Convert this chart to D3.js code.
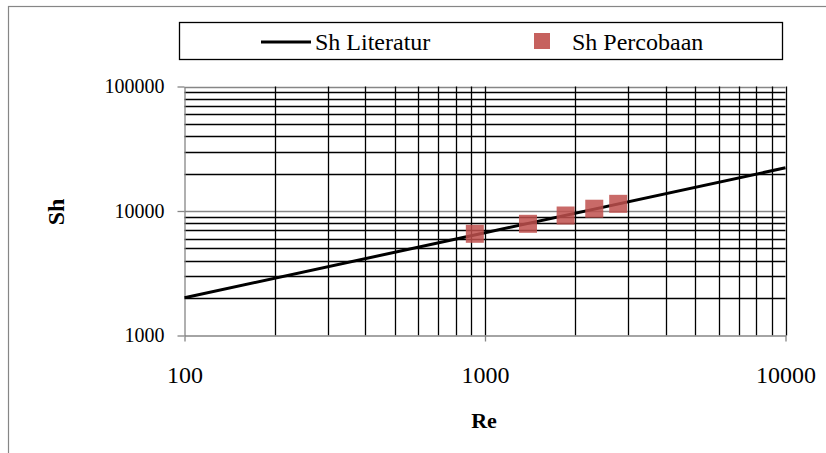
<!DOCTYPE html>
<html>
<head>
<meta charset="utf-8">
<script src="https://cdn.jsdelivr.net/npm/d3@7"></script>
<style>
  html, body { margin: 0; padding: 0; background: #ffffff; }
  svg { display: block; }
  text { font-family: "Liberation Serif", "Times New Roman", serif; fill: #000; }
</style>
</head>
<body>
<svg id="chart" width="826" height="453"></svg>
<script>
// Axis ticks
const reTicks = [100, 1000, 10000];
const shTicks = [1000, 10000, 100000];

// Sh from the literature correlation (power law, straight in log-log)
const reLit = [100, 1000, 10000];
const shLit = [2010, 6690, 22230];

// Sh from the experiments
const reExp = [925, 1390, 1855, 2310, 2775];
const shExp = [6560, 7890, 9200, 10430, 11420];

const svg = d3.select("#chart");

const x = d3.scaleLog().domain([100, 10000]).range([184.5, 785.5]);
const y = d3.scaleLog().domain([1000, 100000]).range([335.5, 86.5]);

const axisGray = "#868686";
const serif = '"Liberation Serif", "Times New Roman", serif';

// outer chart frame
svg.append("rect")
  .attr("x", 8.5).attr("y", 6.5)
  .attr("width", 830).attr("height", 460)
  .attr("fill", "none").attr("stroke", axisGray).attr("stroke-width", 1.2);

const plot = svg.append("g");

// horizontal gridlines: decades in gray, intermediate values in black
const yGrid = y.ticks().filter(v => v > 1000);
plot.selectAll("line.hgrid").data(yGrid).join("line")
  .attr("class", "hgrid")
  .attr("x1", x.range()[0]).attr("x2", x.range()[1])
  .attr("y1", d => Math.round(y(d)) + 0.5).attr("y2", d => Math.round(y(d)) + 0.5)
  .attr("stroke", d => shTicks.includes(d) ? axisGray : "#000")
  .attr("stroke-width", 1.3);

// vertical gridlines, all black
const xGrid = x.ticks().filter(v => v > 100);
plot.selectAll("line.vgrid").data(xGrid).join("line")
  .attr("class", "vgrid")
  .attr("x1", d => Math.round(x(d)) + 0.5).attr("x2", d => Math.round(x(d)) + 0.5)
  .attr("y1", y.range()[1]).attr("y2", y.range()[0])
  .attr("stroke", "#000")
  .attr("stroke-width", 1.3);

// axes
const fmt = d3.format("d");
const xAxis = plot.append("g")
  .attr("transform", `translate(0,${y.range()[0]})`)
  .call(d3.axisBottom(x).tickValues(reTicks).tickFormat(fmt).tickSize(6).tickSizeOuter(0).tickPadding(24));
const yAxis = plot.append("g")
  .attr("transform", `translate(${x.range()[0]},0)`)
  .call(d3.axisLeft(y).tickValues(shTicks).tickFormat(fmt).tickSize(7).tickSizeOuter(0).tickPadding(13));

[xAxis, yAxis].forEach(a => {
  a.select(".domain").attr("stroke", axisGray).attr("stroke-width", 1.3);
  a.selectAll(".tick line").attr("stroke", axisGray).attr("stroke-width", 1.3);
  a.selectAll(".tick text").style("font-family", serif).attr("fill", "#000");
});
xAxis.selectAll(".tick text").style("font-size", "24px");
yAxis.selectAll(".tick text").style("font-size", "20px");

// literature line
const line = d3.line().x((d, i) => x(reLit[i])).y((d, i) => y(shLit[i]));
plot.append("path")
  .datum(reLit)
  .attr("d", line)
  .attr("fill", "none")
  .attr("stroke", "#000")
  .attr("stroke-width", 3);

// experimental points
const sq = 18;
plot.selectAll("rect.pt").data(reExp).join("rect")
  .attr("class", "pt")
  .attr("x", (d, i) => x(reExp[i]) - sq / 2)
  .attr("y", (d, i) => y(shExp[i]) - sq / 2)
  .attr("width", sq).attr("height", sq)
  .attr("fill", "#c0504d")
  .attr("fill-opacity", 0.85);

// axis titles
svg.append("text")
  .attr("x", 484).attr("y", 428)
  .attr("text-anchor", "middle")
  .style("font-size", "22px").style("font-weight", "bold")
  .text("Re");
svg.append("text")
  .attr("transform", "translate(64,212) rotate(-90)")
  .attr("text-anchor", "middle")
  .style("font-size", "24px").style("font-weight", "bold")
  .text("Sh");

// legend
const lg = svg.append("g");
lg.append("rect")
  .attr("x", 179.5).attr("y", 22.5)
  .attr("width", 603).attr("height", 37)
  .attr("fill", "#fff").attr("stroke", "#000").attr("stroke-width", 1.3);
lg.append("line")
  .attr("x1", 261).attr("x2", 311).attr("y1", 42).attr("y2", 42)
  .attr("stroke", "#000").attr("stroke-width", 3);
lg.append("text")
  .attr("x", 315).attr("y", 50)
  .style("font-size", "24px")
  .text("Sh Literatur");
lg.append("rect")
  .attr("x", 534).attr("y", 33).attr("width", 16).attr("height", 16)
  .attr("fill", "#c0504d").attr("fill-opacity", 0.9);
lg.append("text")
  .attr("x", 572).attr("y", 50)
  .style("font-size", "24px")
  .text("Sh Percobaan");
</script>
</body>
</html>
